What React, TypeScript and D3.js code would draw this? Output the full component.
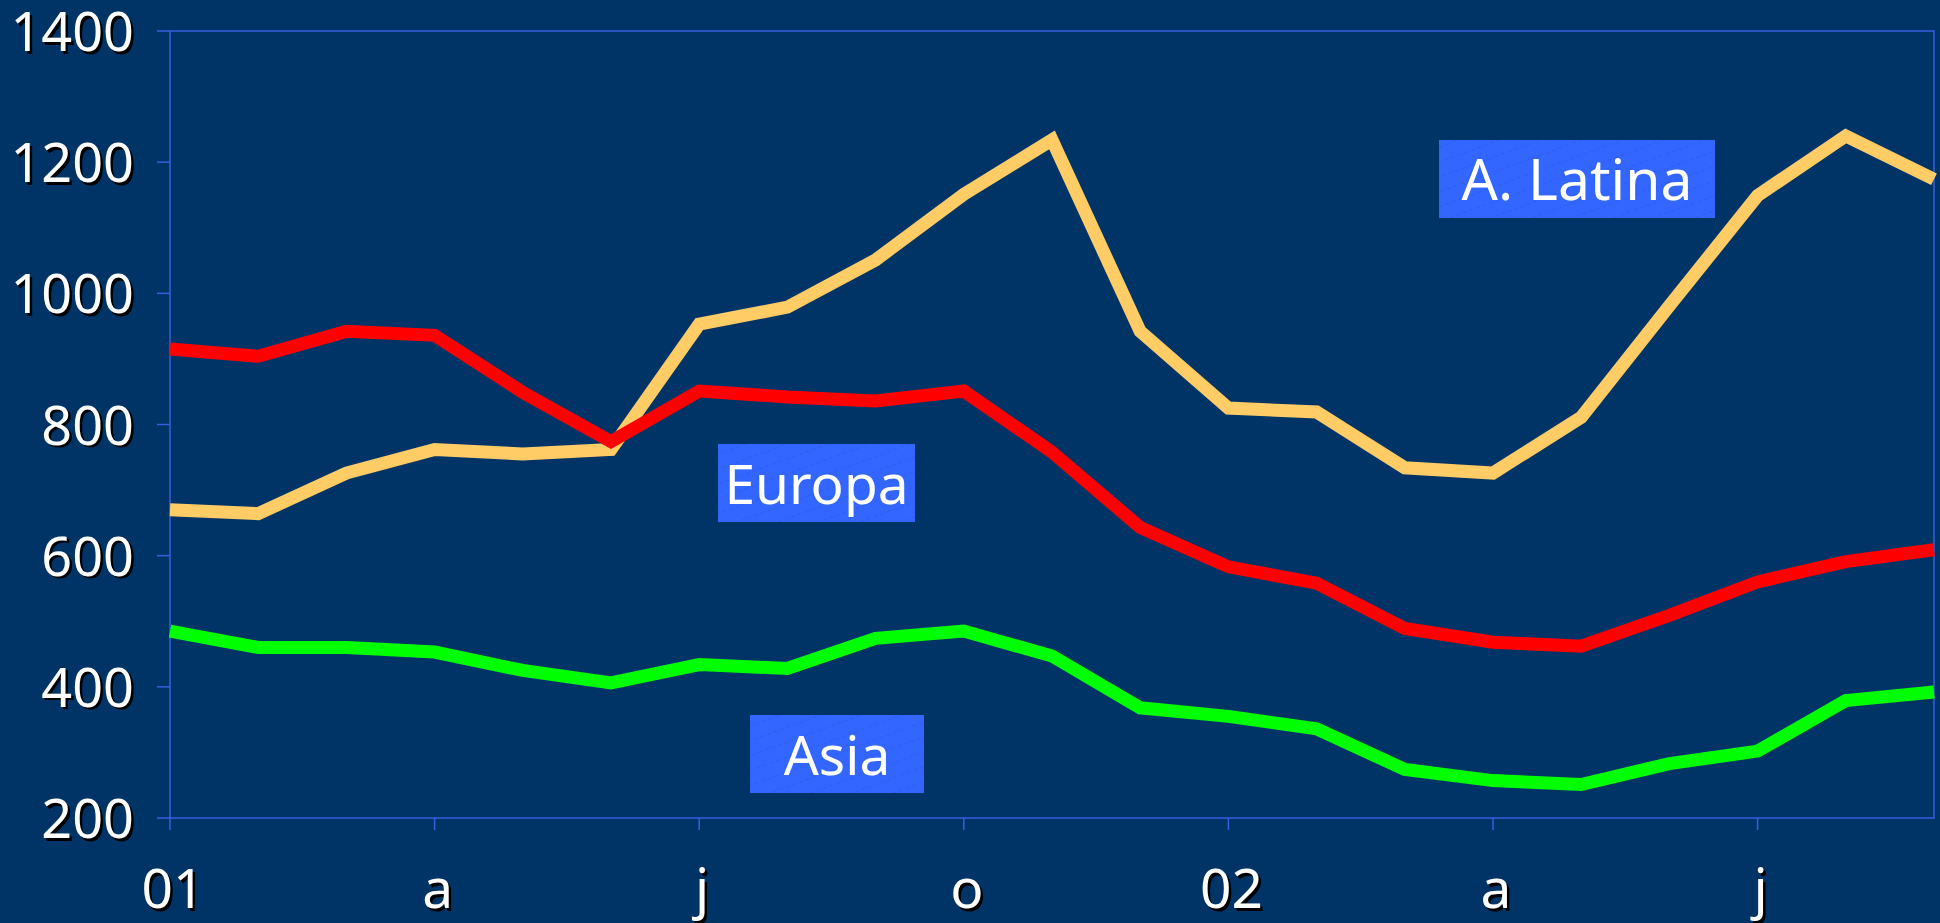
import React from 'react';
import * as d3 from 'd3';

const W = 1940;
const H = 923;

// months Jan 2001 .. Sep 2002
const months = d3.range(21);
const tickLabels = ['01', 'a', 'j', 'o', '02', 'a', 'j'];
const yTicks = [200, 400, 600, 800, 1000, 1200, 1400];

const latina = [670, 664, 726, 762, 755, 762, 953, 979, 1051, 1151, 1234, 942, 825, 819, 734, 726, 811, 981, 1149, 1240, 1174];
const europa = [915, 904, 942, 936, 849, 774, 851, 842, 836, 851, 758, 643, 583, 558, 489, 468, 462, 509, 560, 591, 609];
const asia = [485, 460, 460, 453, 425, 406, 434, 428, 474, 485, 447, 368, 355, 336, 274, 257, 251, 283, 302, 379, 392];

const series = [
    { name: 'A. Latina', values: latina, color: '#FFCC66', box: { x: 1439, y: 140, w: 276, h: 78 } },
    { name: 'Europa', values: europa, color: '#FF0000', box: { x: 718, y: 444, w: 197, h: 78 } },
    { name: 'Asia', values: asia, color: '#00FF00', box: { x: 750, y: 715, w: 174, h: 78 } },
];

const margin = { top: 31, right: 6, bottom: 105, left: 170 };
const font = '"Noto Sans", "Open Sans", sans-serif';
const axisColor = '#3A5EE0';

const App = () => {
    const x = d3.scaleLinear().domain([0, 20]).range([margin.left, W - margin.right]);
    const y = d3.scaleLinear().domain([200, 1400]).range([H - margin.bottom, margin.top]);
    const line = d3.line<number>().x((d, i) => x(i)).y(d => y(d));
    const x0 = x(0);
    const x1 = x(20);
    const y0 = y(200);
    const y1 = y(1400);

    const shadowText = (tx: number, ty: number, label: string, anchor: string, key: string, size: number) => (
        <g key={key} fontFamily={font} fontSize={size} textAnchor={anchor}>
            <text x={tx + 2.5} y={ty + 2.5} fill="#000">{label}</text>
            <text x={tx} y={ty} fill="#fff">{label}</text>
        </g>
    );

    return (
        <svg width={W} height={H} style={{ position: 'fixed', left: 0, top: 0, display: 'block' }}>
            <defs>
                <pattern id="hatch" width="14" height="14" patternUnits="userSpaceOnUse" patternTransform="rotate(-20)">
                    <line x1="0" y1="0" x2="14" y2="0" stroke="#2a55d8" strokeWidth="1" strokeDasharray="4 3" />
                </pattern>
            </defs>
            <rect width={W} height={H} fill="#003366" />

            {/* plot frame */}
            <rect x={x0} y={y1} width={x1 - x0} height={y0 - y1} fill="none" stroke={axisColor} strokeWidth={1.5} />

            {/* y axis ticks */}
            {yTicks.map(t => (
                <g key={'y' + t}>
                    <line x1={x0 - 13} x2={x0} y1={y(t)} y2={y(t)} stroke={axisColor} strokeWidth={1.5} />
                    {shadowText(x0 - 36, y(t) + 20, String(t), 'end', 'yl' + t, 54)}
                </g>
            ))}

            {/* x axis ticks */}
            {months.filter(m => m % 3 === 0).map((m, i) => (
                <g key={'x' + m}>
                    <line x1={x(m)} x2={x(m)} y1={y0} y2={y0 + 12} stroke={axisColor} strokeWidth={1.5} />
                    {shadowText(x(m) + 3, 908, tickLabels[i], 'middle', 'xl' + m, 55)}
                </g>
            ))}

            {/* lines */}
            {series.map(s => (
                <path
                    key={s.name}
                    d={line(s.values) || ''}
                    fill="none"
                    stroke={s.color}
                    strokeWidth={13}
                    strokeLinejoin="miter"
                    strokeLinecap="butt"
                />
            ))}

            {/* series labels */}
            {series.map(s => (
                <g key={'lab' + s.name}>
                    <rect x={s.box.x} y={s.box.y} width={s.box.w} height={s.box.h} fill="#3366FF" />
                    <rect x={s.box.x} y={s.box.y} width={s.box.w} height={s.box.h} fill="url(#hatch)" />
                    <text
                        x={s.box.x + s.box.w / 2}
                        y={s.box.y + 60}
                        fill="#fff"
                        fontFamily={font}
                        fontSize={s.name === 'A. Latina' ? 57 : 55}
                        textAnchor="middle"
                    >
                        {s.name}
                    </text>
                </g>
            ))}
        </svg>
    );
};

export default App;
